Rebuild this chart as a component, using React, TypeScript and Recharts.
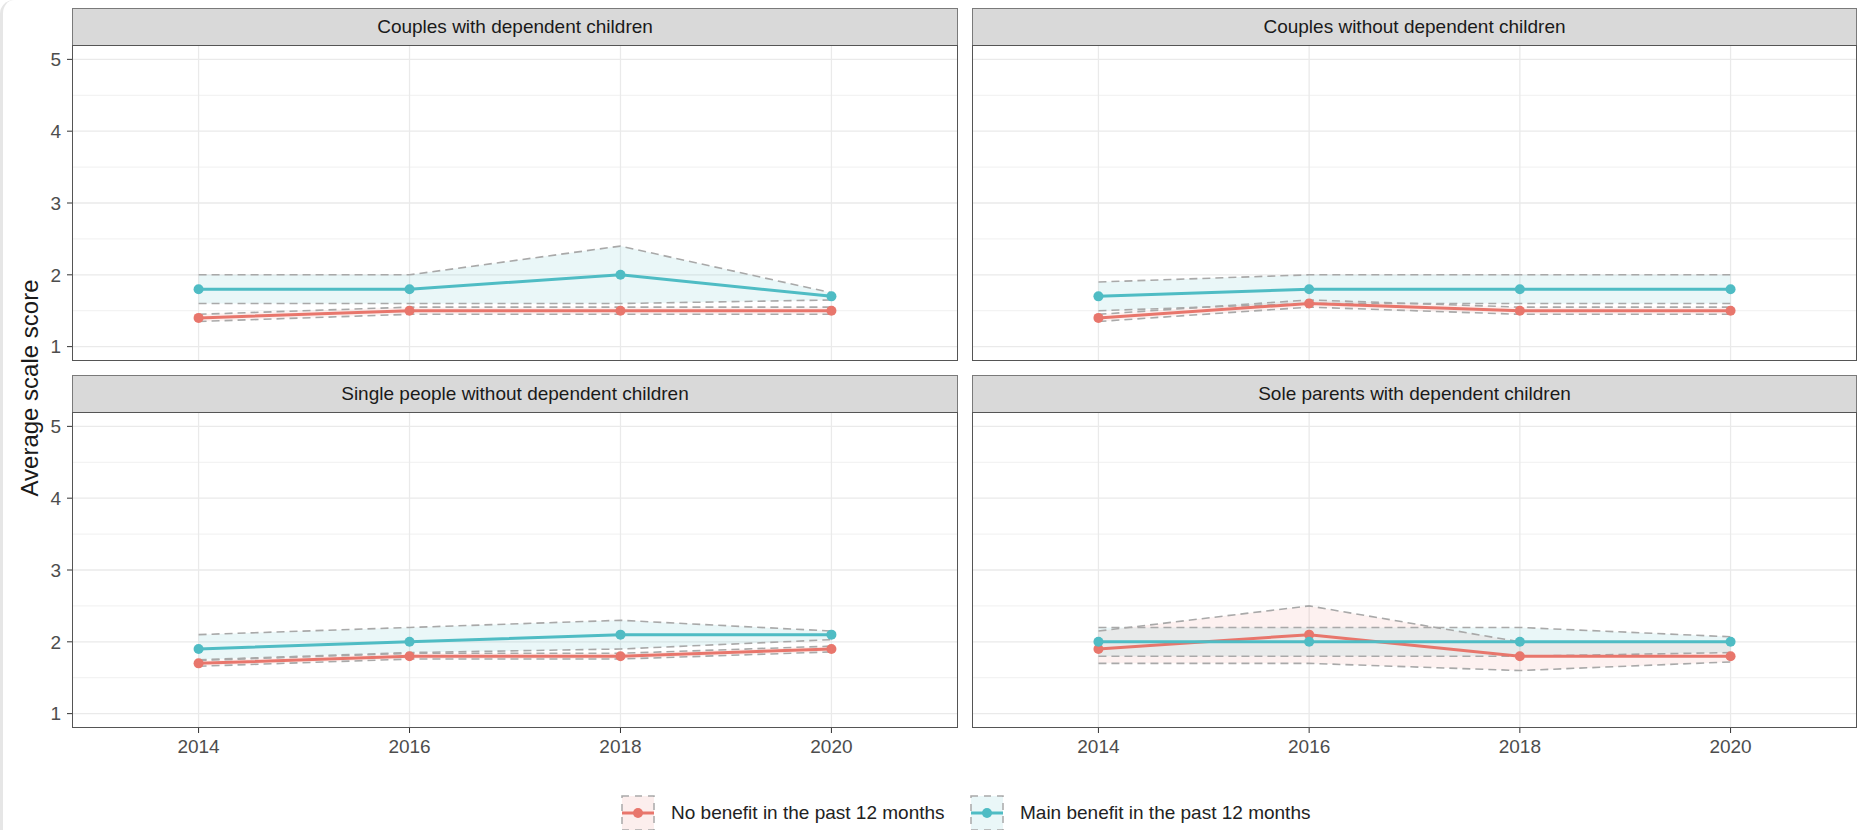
import React from 'react'
import {
  ComposedChart,
  Area,
  Line,
  XAxis,
  YAxis,
  CartesianGrid,
} from 'recharts'

const years = [2014, 2016, 2018, 2020]
const yTicks = [1, 2, 3, 4, 5]
const yMinor = [1.5, 2.5, 3.5, 4.5]

const panelTitles = [
  'Couples with dependent children',
  'Couples without dependent children',
  'Single people without dependent children',
  'Sole parents with dependent children',
]

// main benefit in the past 12 months (teal)
const cwdMain = [1.8, 1.8, 2.0, 1.7]
const cwdMainLo = [1.6, 1.6, 1.6, 1.65]
const cwdMainHi = [2.0, 2.0, 2.4, 1.75]
// no benefit (red)
const cwdNone = [1.4, 1.5, 1.5, 1.5]
const cwdNoneLo = [1.35, 1.45, 1.45, 1.45]
const cwdNoneHi = [1.45, 1.55, 1.55, 1.55]

const cwoMain = [1.7, 1.8, 1.8, 1.8]
const cwoMainLo = [1.5, 1.6, 1.6, 1.6]
const cwoMainHi = [1.9, 2.0, 2.0, 2.0]
const cwoNone = [1.4, 1.6, 1.5, 1.5]
const cwoNoneLo = [1.35, 1.55, 1.45, 1.45]
const cwoNoneHi = [1.45, 1.65, 1.55, 1.55]

const spwMain = [1.9, 2.0, 2.1, 2.1]
const spwMainLo = [1.75, 1.85, 1.9, 2.03]
const spwMainHi = [2.1, 2.2, 2.3, 2.15]
const spwNone = [1.7, 1.8, 1.8, 1.9]
const spwNoneLo = [1.66, 1.76, 1.76, 1.86]
const spwNoneHi = [1.74, 1.84, 1.84, 1.94]

const solMain = [2.0, 2.0, 2.0, 2.0]
const solMainLo = [1.8, 1.8, 1.8, 1.85]
const solMainHi = [2.2, 2.2, 2.2, 2.07]
const solNone = [1.9, 2.1, 1.8, 1.8]
const solNoneLo = [1.7, 1.7, 1.6, 1.72]
const solNoneHi = [2.15, 2.5, 2.0, 2.0]

const TEAL = '#4FBCC4'
const RED = '#E8766C'
const DASH = '#A9A9A9'
const FONT = '"Liberation Sans", Arial, Helvetica, sans-serif'

const buildRows = (
  main: number[], mainLo: number[], mainHi: number[],
  none: number[], noneLo: number[], noneHi: number[],
) =>
  years.map((year, i) => ({
    year,
    main: main[i],
    mainLo: mainLo[i],
    mainHi: mainHi[i],
    mainBand: [mainLo[i], mainHi[i]],
    none: none[i],
    noneLo: noneLo[i],
    noneHi: noneHi[i],
    noneBand: [noneLo[i], noneHi[i]],
  }))

const panels = [
  buildRows(cwdMain, cwdMainLo, cwdMainHi, cwdNone, cwdNoneLo, cwdNoneHi),
  buildRows(cwoMain, cwoMainLo, cwoMainHi, cwoNone, cwoNoneLo, cwoNoneHi),
  buildRows(spwMain, spwMainLo, spwMainHi, spwNone, spwNoneLo, spwNoneHi),
  buildRows(solMain, solMainLo, solMainHi, solNone, solNoneLo, solNoneHi),
]

// layout
const COL_X = [72, 972]
const COL_W = [886, 885]
const STRIP_Y = [8, 375]
const STRIP_H = 37
const PLOT_H = 316
const Y_AXIS_W = 72
const X_AXIS_H = 40

function Panel({ index }: { index: number }) {
  const col = index % 2
  const row = Math.floor(index / 2)
  const showY = col === 0
  const showX = row === 1
  const plotX = COL_X[col]
  const plotY = STRIP_Y[row] + STRIP_H
  const chartX = showY ? plotX - Y_AXIS_W : plotX
  const chartW = COL_W[col] + (showY ? Y_AXIS_W : 0)
  const chartH = PLOT_H + (showX ? X_AXIS_H : 0)
  const data = panels[index]

  return (
    <>
      <div
        style={{
          position: 'absolute',
          left: plotX,
          top: STRIP_Y[row],
          width: COL_W[col],
          height: STRIP_H,
          boxSizing: 'border-box',
          background: '#D9D9D9',
          border: '1.5px solid #7a7a7a',
          borderBottom: 'none',
          display: 'flex',
          alignItems: 'center',
          justifyContent: 'center',
          fontSize: 19,
          color: '#1A1A1A',
        }}
      >
        {panelTitles[index]}
      </div>
      <div style={{ position: 'absolute', left: chartX, top: plotY }}>
        <ComposedChart
          width={chartW}
          height={chartH}
          data={data}
          margin={{ top: 0, right: 0, bottom: 0, left: 0 }}
        >
          <CartesianGrid
            horizontalValues={yMinor}
            vertical={false}
            stroke="#F0F0F0"
            strokeWidth={1}
          />
          <CartesianGrid
            horizontalValues={yTicks}
            verticalValues={years}
            stroke="#EAEAEA"
            strokeWidth={1.3}
          />
          <XAxis
            dataKey="year"
            type="number"
            domain={[2012.8, 2021.2]}
            ticks={years}
            allowDataOverflow
            hide={!showX}
            height={X_AXIS_H}
            axisLine={false}
            tickSize={5}
            tickMargin={7}
            tickLine={{ stroke: '#333' }}
            tick={{ fill: '#4D4D4D', fontSize: 19, fontFamily: FONT }}
          />
          <YAxis
            type="number"
            domain={[0.8, 5.2]}
            ticks={yTicks}
            allowDataOverflow
            hide={!showY}
            width={Y_AXIS_W}
            axisLine={false}
            tickSize={5}
            tickMargin={6}
            tickLine={{ stroke: '#333' }}
            tick={{ fill: '#4D4D4D', fontSize: 19, fontFamily: FONT }}
          />
          <Area
            dataKey="noneBand"
            type="linear"
            stroke="none"
            fill={RED}
            fillOpacity={0.1}
            isAnimationActive={false}
            activeDot={false}
          />
          <Area
            dataKey="mainBand"
            type="linear"
            stroke="none"
            fill={TEAL}
            fillOpacity={0.12}
            isAnimationActive={false}
            activeDot={false}
          />
          {['noneLo', 'noneHi', 'mainLo', 'mainHi'].map((k) => (
            <Line
              key={k}
              dataKey={k}
              type="linear"
              stroke={DASH}
              strokeWidth={1.6}
              strokeDasharray="8 5"
              dot={false}
              activeDot={false}
              isAnimationActive={false}
            />
          ))}
          <Line
            dataKey="none"
            type="linear"
            stroke={RED}
            strokeWidth={3}
            dot={{ r: 5, fill: RED, stroke: RED, strokeWidth: 0 }}
            activeDot={false}
            isAnimationActive={false}
          />
          <Line
            dataKey="main"
            type="linear"
            stroke={TEAL}
            strokeWidth={3}
            dot={{ r: 5, fill: TEAL, stroke: TEAL, strokeWidth: 0 }}
            activeDot={false}
            isAnimationActive={false}
          />
        </ComposedChart>
      </div>
      <div
        style={{
          position: 'absolute',
          left: plotX,
          top: plotY,
          width: COL_W[col],
          height: PLOT_H,
          boxSizing: 'border-box',
          border: '1.5px solid #555',
          pointerEvents: 'none',
        }}
      />
    </>
  )
}

function LegendKey({ color }: { color: string }) {
  return (
    <svg width={34} height={36} style={{ display: 'block' }}>
      <rect x={1} y={1} width={32} height={34} fill={color} fillOpacity={0.12}
        stroke={DASH} strokeWidth={1.5} strokeDasharray="7 6" />
      <line x1={1} x2={33} y1={18} y2={18} stroke={color} strokeWidth={3} />
      <circle cx={17} cy={18} r={5} fill={color} />
    </svg>
  )
}

const legendItems = [
  { label: 'No benefit in the past 12 months', color: RED, x: 621 },
  { label: 'Main benefit in the past 12 months', color: TEAL, x: 970 },
]

export default function App() {
  return (
    <div
      style={{
        position: 'absolute',
        left: 0,
        top: 0,
        width: 1863,
        height: 830,
        background: '#fff',
        fontFamily: FONT,
        overflow: 'hidden',
      }}
    >
      {/* faint card edge on the left of the screenshot */}
      <div
        style={{
          position: 'absolute',
          left: 0,
          top: 0,
          width: 20,
          height: 860,
          borderLeft: '3px solid #E6E6E6',
          borderTopLeftRadius: 14,
          boxSizing: 'border-box',
        }}
      />
      {[0, 1, 2, 3].map((i) => (
        <Panel key={i} index={i} />
      ))}
      <div
        style={{
          position: 'absolute',
          left: 30 - 200,
          top: 388 - 15,
          width: 400,
          height: 30,
          lineHeight: '30px',
          textAlign: 'center',
          transform: 'rotate(-90deg)',
          fontSize: 24,
          color: '#1A1A1A',
        }}
      >
        Average scale score
      </div>
      {legendItems.map((item) => (
        <div
          key={item.label}
          style={{
            position: 'absolute',
            left: item.x,
            top: 795,
            height: 36,
            display: 'flex',
            alignItems: 'center',
            gap: 16,
            fontSize: 19,
            color: '#222',
            whiteSpace: 'nowrap',
          }}
        >
          <LegendKey color={item.color} />
          <span>{item.label}</span>
        </div>
      ))}
    </div>
  )
}
